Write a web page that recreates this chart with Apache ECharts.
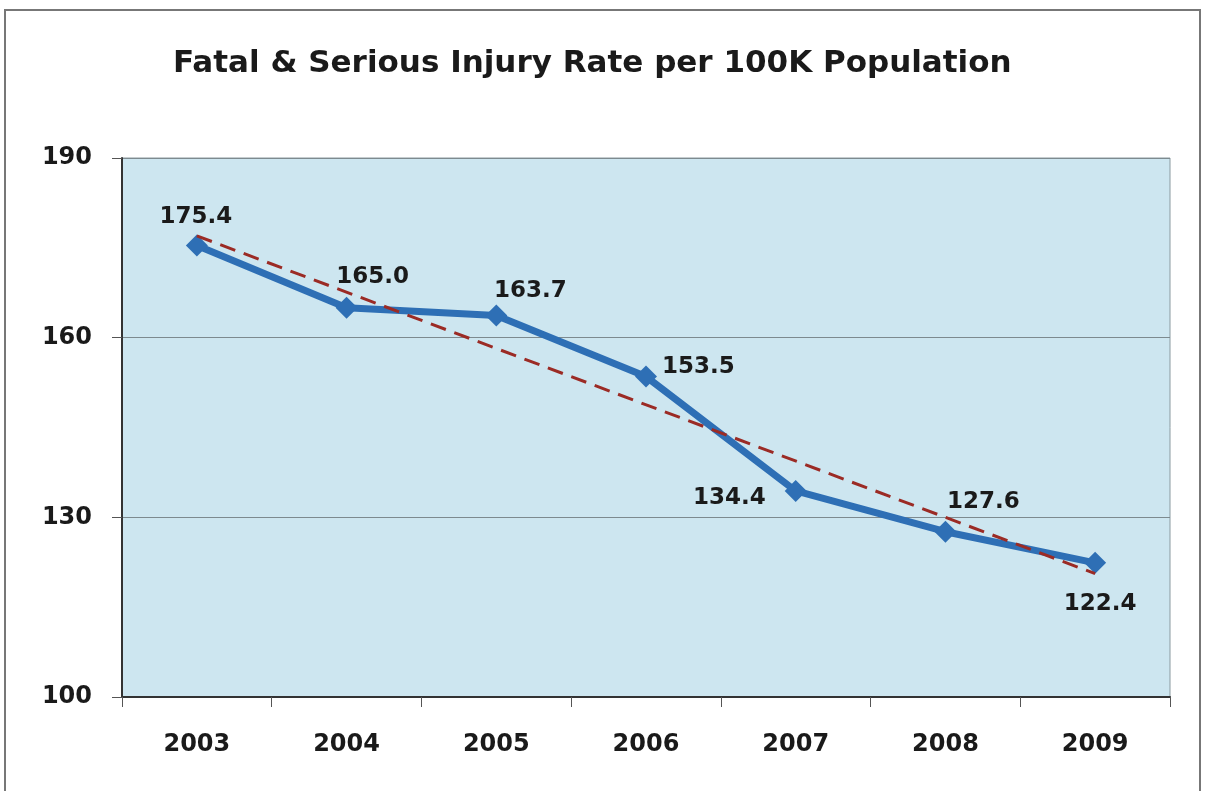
<!DOCTYPE html>
<html lang="en">
<head>
    <meta charset="UTF-8">
    <title>Fatal & Serious Injury Rate</title>
    <script src="https://cdn.jsdelivr.net/npm/echarts@6/dist/echarts.min.js"></script>
    <style>
        html, body { margin: 0; padding: 0; background: #fff; }
        #chart { width: 1207px; height: 791px; }
    </style>
</head>
<body>
    <div id="chart"></div>
    <script>
        var years = ['2003', '2004', '2005', '2006', '2007', '2008', '2009'];
        var rates = [175.4, 165.0, 163.7, 153.5, 134.4, 127.6, 122.4];
        // trend line: only the two ends are drawn
        var trend = [177.0, null, null, null, null, null, 120.6];
        var yTicks = [100, 130, 160, 190];

        // where each value label sits relative to its point
        var labelPos = [
            { position: 'top', offset: [-1, -1] },
            { position: 'top', offset: [26, -3] },
            { position: 'top', offset: [34, 3] },
            { position: 'right', offset: [0, -10] },
            { position: 'left', offset: [-14, 7] },
            { position: 'top', offset: [38, -2] },
            { position: 'bottom', offset: [5, 14] }
        ];

        var chart = echarts.init(document.getElementById('chart'));

        var option = {
            animation: false,
            backgroundColor: '#ffffff',
            textStyle: { fontFamily: 'DejaVu Sans, sans-serif' },
            title: {
                text: 'Fatal & Serious Injury Rate per 100K Population',
                left: 168,
                top: 43,
                textStyle: { fontSize: 31, fontWeight: 'bold', color: '#1a1a1a' }
            },
            graphic: [{
                type: 'rect',
                shape: { x: 5, y: 10, width: 1195, height: 800 },
                style: { fill: 'none', stroke: '#777', lineWidth: 2 },
                z: -1
            }],
            grid: {
                left: 122, right: 37, top: 158, bottom: 94,
                show: true,
                backgroundColor: '#cde6f0',
                borderColor: '#8a9aa0',
                borderWidth: 1
            },
            xAxis: {
                type: 'category',
                data: years,
                boundaryGap: true,
                axisLine: { lineStyle: { color: '#333', width: 2 } },
                axisTick: { show: true, length: 10, lineStyle: { color: '#555' } },
                axisLabel: { fontSize: 24, fontWeight: 'bold', color: '#1a1a1a', margin: 36 }
            },
            yAxis: {
                type: 'value',
                min: yTicks[0],
                max: yTicks[yTicks.length - 1],
                interval: 30,
                axisLine: { show: true, lineStyle: { color: '#333', width: 2 } },
                axisTick: { show: true, length: 10, lineStyle: { color: '#555' } },
                axisLabel: { fontSize: 24, fontWeight: 'bold', color: '#1a1a1a', margin: 30 },
                splitLine: { show: true, lineStyle: { color: '#7d8a8f', width: 1 } }
            },
            series: [
                {
                    name: 'Trend',
                    type: 'line',
                    data: trend,
                    connectNulls: true,
                    symbol: 'none',
                    lineStyle: { color: '#9b2b25', width: 3, type: [16, 9] },
                    z: 3
                },
                {
                    name: 'Rate',
                    type: 'line',
                    data: rates.map(function (v, i) {
                        return {
                            value: v,
                            label: labelPos[i]
                        };
                    }),
                    symbol: 'diamond',
                    symbolSize: 22,
                    itemStyle: { color: '#2e6fb5' },
                    lineStyle: { color: '#2e6fb5', width: 7 },
                    label: {
                        show: true,
                        fontSize: 23,
                        fontWeight: 'bold',
                        color: '#1a1a1a',
                        formatter: function (p) { return p.value.toFixed(1); }
                    },
                    z: 2
                }
            ]
        };

        chart.setOption(option);
    </script>
</body>
</html>
